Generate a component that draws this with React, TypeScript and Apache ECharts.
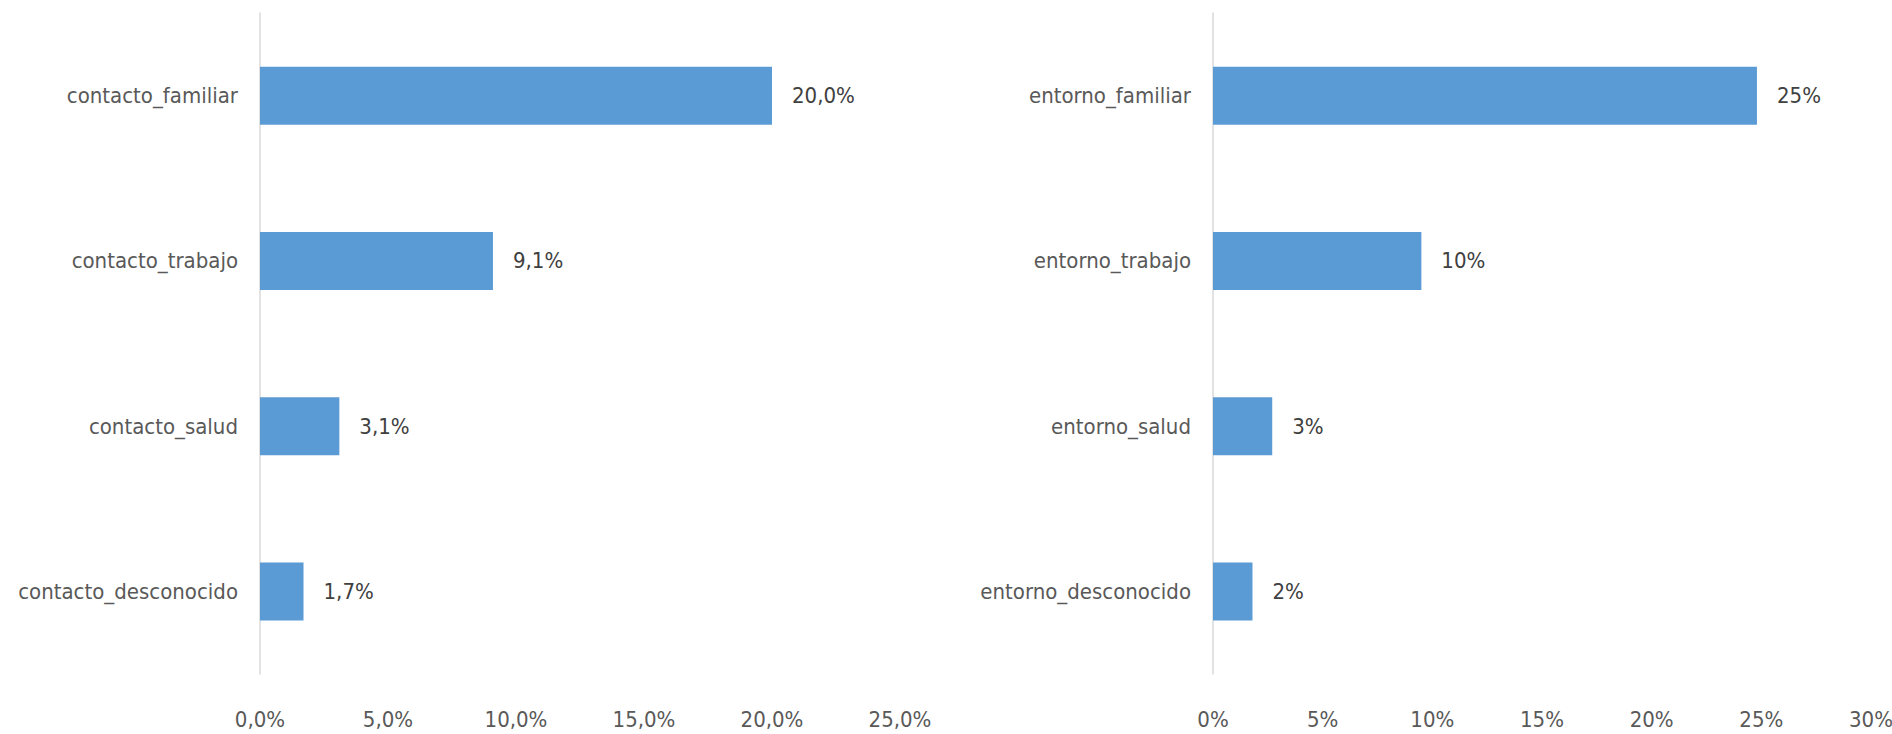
import React, { useEffect, useRef } from "react";
import * as echarts from "echarts";

const leftCategories = ["contacto_familiar", "contacto_trabajo", "contacto_salud", "contacto_desconocido"];
const leftValues = [20.0, 9.1, 3.1, 1.7];
const rightCategories = ["entorno_familiar", "entorno_trabajo", "entorno_salud", "entorno_desconocido"];
const rightValues = [24.8, 9.5, 2.7, 1.8];
const leftTicks = { min: 0, max: 25, interval: 5 };
const rightTicks = { min: 0, max: 30, interval: 5 };

const FONT = "'DejaVu Sans Condensed', 'Liberation Sans Narrow', sans-serif";
const BAR = "#5B9BD5";
const FS = 22;

export default function App() {
  const ref = useRef<HTMLDivElement>(null);
  useEffect(() => {
    if (!ref.current) return;
    const chart = echarts.init(ref.current, null, { renderer: "svg" });
    const fmtLeft = (v: number) => v.toFixed(1).replace(".", ",") + "%";
    const fmtRight = (v: number) => Math.round(v) + "%";
    const catAxis = (idx: number, data: string[]) => ({
      type: "category",
      gridIndex: idx,
      data,
      inverse: true,
      axisTick: { show: false },
      axisLine: { show: true, lineStyle: { color: "#d9d9d9", width: 1.5 } },
      axisLabel: { fontFamily: FONT, fontSize: FS, color: "#595959", margin: 22 },
    });
    const valAxis = (idx: number, t: { min: number; max: number; interval: number }, fmt: (v: number) => string) => ({
      type: "value",
      gridIndex: idx,
      min: t.min,
      max: t.max,
      interval: t.interval,
      splitLine: { show: false },
      axisLine: { show: false },
      axisTick: { show: false },
      axisLabel: { fontFamily: FONT, fontSize: FS, color: "#595959", margin: 34, formatter: fmt },
    });
    const barSeries = (idx: number, data: number[], fmt: (v: number) => string) => ({
      type: "bar",
      xAxisIndex: idx,
      yAxisIndex: idx,
      data,
      barWidth: 58,
      itemStyle: { color: BAR },
      label: {
        show: true,
        position: "right",
        distance: 20,
        fontFamily: FONT,
        fontSize: FS,
        color: "#404040",
        formatter: (p: any) => fmt(p.value),
      },
    });
    chart.setOption({
      animation: false,
      backgroundColor: "#ffffff",
      grid: [
        { left: 260, top: 13, width: 640, height: 661, containLabel: false, outerBoundsMode: "none" },
        { left: 1213, top: 13, width: 658, height: 661, containLabel: false, outerBoundsMode: "none" },
      ],
      xAxis: [valAxis(0, leftTicks, fmtLeft), valAxis(1, rightTicks, fmtRight)],
      yAxis: [catAxis(0, leftCategories), catAxis(1, rightCategories)],
      series: [barSeries(0, leftValues, fmtLeft), barSeries(1, rightValues, fmtRight)],
    });
    return () => chart.dispose();
  }, []);
  return (
    <div
      ref={ref}
      style={{ position: "fixed", left: 0, top: 0, width: 1892, height: 734, background: "#fff" }}
    />
  );
}
